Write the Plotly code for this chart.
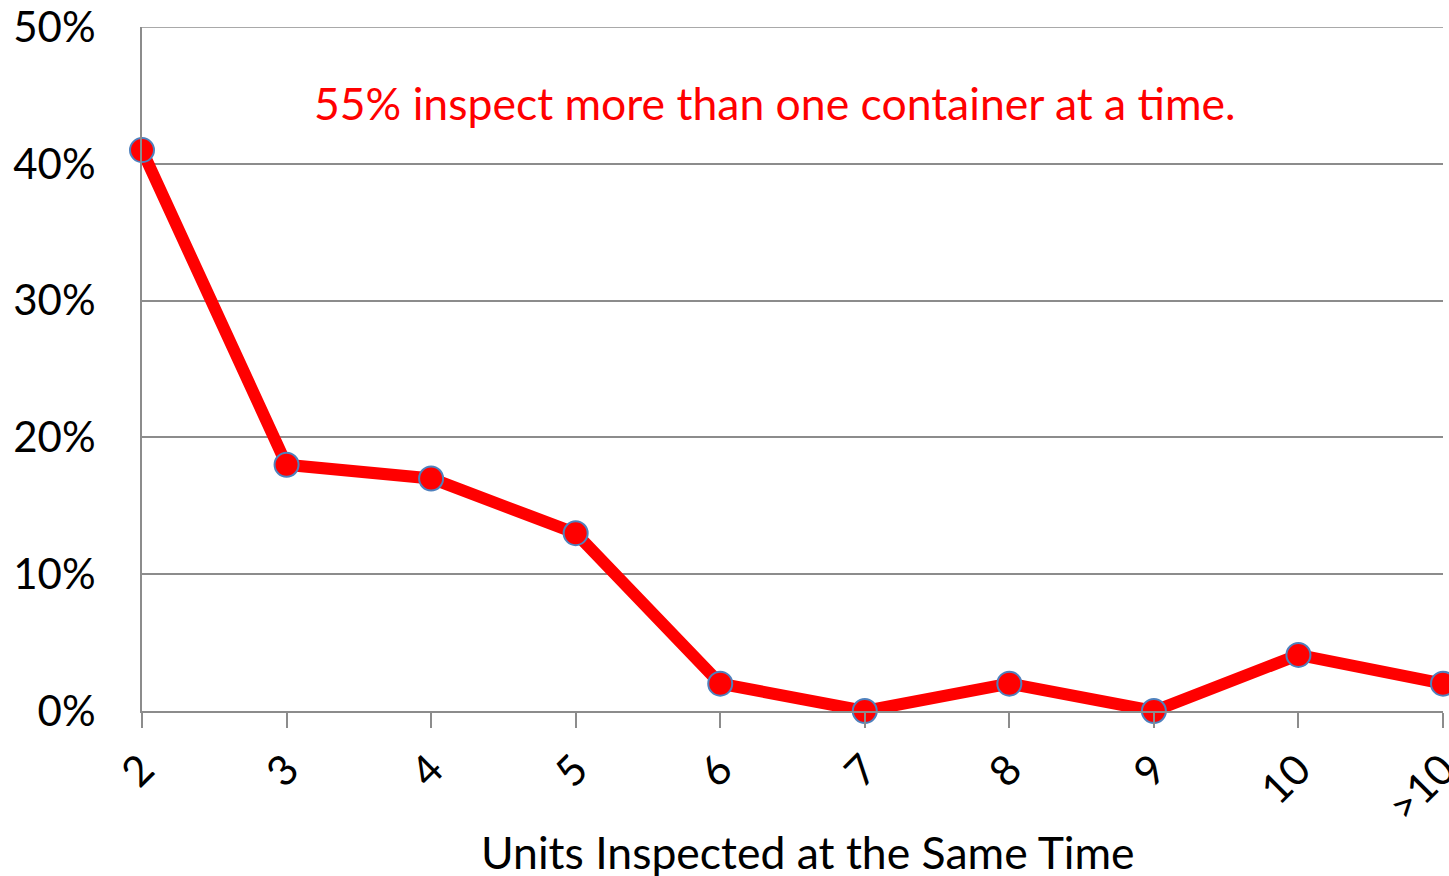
import plotly.graph_objects as go

categories = ["2", "3", "4", "5", "6", "7", "8", "9", "10", ">10"]
shares = [0.41, 0.18, 0.17, 0.13, 0.02, 0.0, 0.02, 0.0, 0.041, 0.02]
y_ticks = [0, 0.1, 0.2, 0.3, 0.4, 0.5]
y_labels = ["0%", "10%", "20%", "30%", "40%", "50%"]
note = "55% inspect more than one container at a time."
x_title = "Units Inspected at the Same Time"

FONT = "Lato"
GRID = "#8c8c8c"

fig = go.Figure()
fig.add_trace(go.Scatter(
    x=categories, y=shares, mode="lines+markers",
    line=dict(color="#ff0000", width=12),
    marker=dict(size=24, color="#ff0000", line=dict(color="#4f81bd", width=2)),
    cliponaxis=False, showlegend=False,
))

fig.update_layout(
    width=1449, height=876,
    margin=dict(l=142, r=6, t=27, b=165, autoexpand=False),
    paper_bgcolor="white", plot_bgcolor="white",
    font=dict(family=FONT, size=42, color="black"),
    xaxis=dict(
        type="category", range=[0, len(categories) - 1], automargin=False,
        showgrid=False, showline=True, linecolor=GRID, linewidth=2,
        ticks="outside", ticklen=15, tickwidth=2, tickcolor=GRID,
        tickangle=-45, tickfont=dict(size=42, family=FONT),
        zeroline=False,
    ),
    yaxis=dict(
        range=[0, 0.5], tickvals=y_ticks, ticktext=y_labels, automargin=False,
        showgrid=True, gridcolor=GRID, gridwidth=1.5,
        showline=True, linecolor=GRID, linewidth=2,
        zeroline=False, ticks="", ticklabelstandoff=36,
        tickfont=dict(size=42, family=FONT),
    ),
    shapes=[
        dict(type="line", xref="paper", yref="y", x0=0, x1=1,
             y0=y_ticks[-1], y1=y_ticks[-1], line=dict(color=GRID, width=1.5)),
    ],
    annotations=[
        dict(text=note, xref="paper", yref="paper", x=0.4866, y=0.890,
             showarrow=False, font=dict(color="#ff0000", size=44.5, family=FONT),
             xanchor="center", yanchor="middle"),
        dict(text=x_title, xref="paper", yref="paper", x=0.512, y=-0.206,
             showarrow=False, font=dict(color="black", size=44.5, family=FONT),
             xanchor="center", yanchor="middle"),
    ],
)

fig.write_html(
    "out.html",
    config={"displayModeBar": False},
    post_script="document.body.style.margin='0';document.body.style.overflow='hidden';",
)
